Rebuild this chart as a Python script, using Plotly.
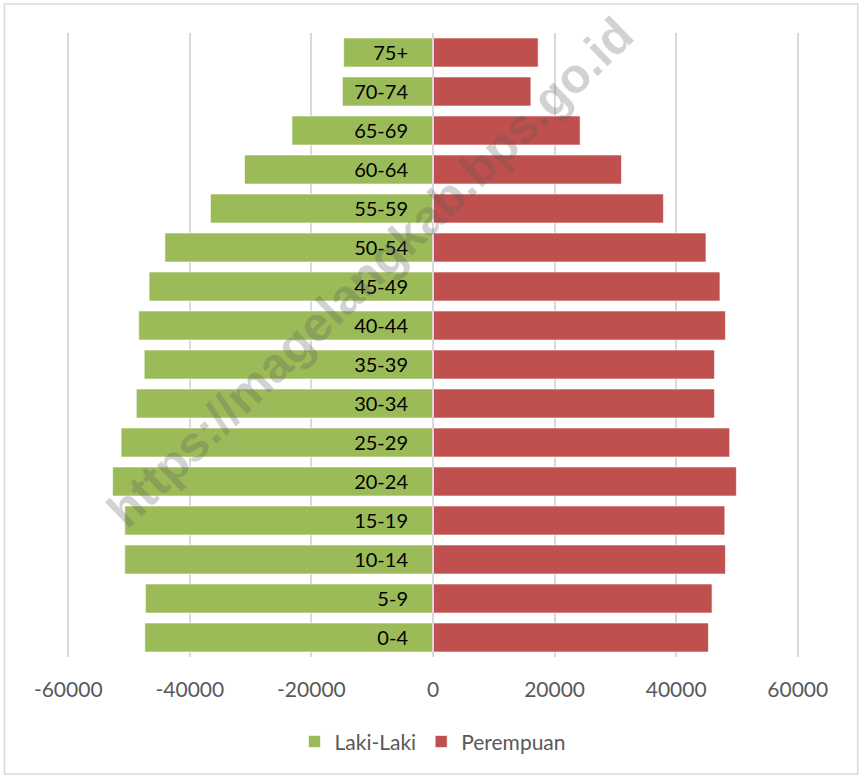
import plotly.graph_objects as go

age_groups = ["0-4", "5-9", "10-14", "15-19", "20-24", "25-29", "30-34", "35-39",
              "40-44", "45-49", "50-54", "55-59", "60-64", "65-69", "70-74", "75+"]
laki_laki = [47400, 47300, 50700, 50700, 52700, 51300, 48800, 47500,
             48400, 46700, 44100, 36600, 31000, 23200, 14900, 14700]
perempuan = [45300, 45900, 48100, 48000, 49900, 48800, 46300, 46300,
             48100, 47200, 44900, 37900, 31000, 24200, 16100, 17300]
x_tick_values = [-60000, -40000, -20000, 0, 20000, 40000, 60000]
x_tick_labels = ["-60000", "-40000", "-20000", "0", "20000", "40000", "60000"]
watermark = "https://magelangkab.bps.go.id"

GREEN = "#9BBB59"
RED = "#C0504D"
FONT = "Lato"

fig = go.Figure()
fig.add_trace(go.Bar(
    y=age_groups, x=[-v for v in laki_laki], orientation="h", name="Laki-Laki",
    marker=dict(color=GREEN, line=dict(color="rgba(255,255,255,0.6)", width=1)),
))
fig.add_trace(go.Bar(
    y=age_groups, x=perempuan, orientation="h", name="Perempuan",
    marker=dict(color=RED, line=dict(color="rgba(255,255,255,0.6)", width=1)),
))

fig.update_layout(
    width=862, height=777,
    margin=dict(l=67, r=63, t=33, b=120),
    paper_bgcolor="white", plot_bgcolor="white",
    barmode="overlay", bargap=0.256,
    font=dict(family=FONT, color="#595959"),
    showlegend=True,
    legend=dict(orientation="h", x=0.5, xanchor="center", y=-0.136, yanchor="middle",
                font=dict(size=21, color="#595959", family=FONT),
                itemwidth=30, traceorder="normal"),
    xaxis=dict(range=[-60200, 60200], tickvals=x_tick_values, ticktext=x_tick_labels,
               showgrid=True, gridcolor="#D9D9D9", gridwidth=2,
               zeroline=False, showline=False,
               ticks="outside", ticklen=14, tickcolor="rgba(0,0,0,0)",
               tickfont=dict(size=21, color="#595959", family=FONT)),
    yaxis=dict(type="category", categoryorder="array", categoryarray=age_groups,
               range=[-0.5, len(age_groups) - 0.5],
               anchor="free", position=0.5, side="left",
               showgrid=False, zeroline=False, showline=False,
               ticks="outside", ticklen=21, tickcolor="rgba(0,0,0,0)",
               tickfont=dict(size=20, color="#000000", family=FONT)),
    shapes=[
        dict(type="line", xref="x", yref="paper", x0=0, x1=0, y0=0, y1=1,
             line=dict(color="#D9D9D9", width=2), layer="above"),
        dict(type="rect", xref="paper", yref="paper",
             x0=-0.0855, x1=1.0803, y0=-0.1875, y1=1.0465,
             line=dict(color="#D9D9D9", width=1.5), layer="below"),
    ],
    annotations=[
        dict(text="<b>" + watermark + "</b>", xref="paper", yref="paper", x=0.414, y=0.617,
             showarrow=False, textangle=-44,
             font=dict(family="Liberation Sans", size=49, color="rgba(90,90,90,0.27)")),
    ],
)

fig.write_html("out.html")
